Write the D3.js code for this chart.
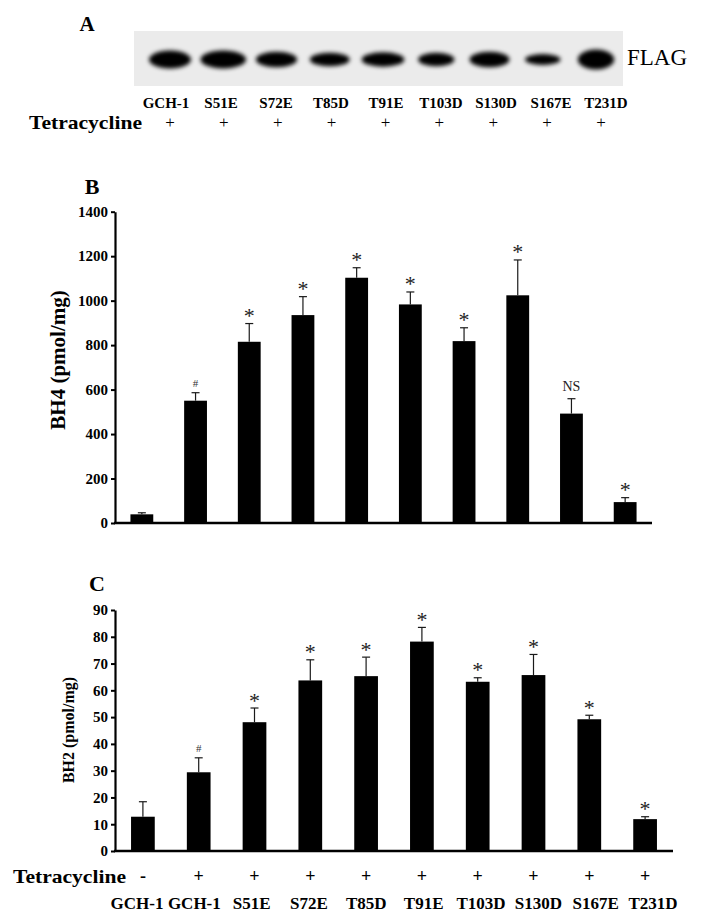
<!DOCTYPE html>
<html>
<head>
<meta charset="utf-8">
<script src="https://cdn.jsdelivr.net/npm/d3@7"></script>
<style>
  html, body { margin: 0; padding: 0; background: #fff; }
  svg { display: block; }
  text { font-family: "Liberation Serif", "Times New Roman", serif; fill: #000; }
</style>
</head>
<body>
<script>
// ---------------- DATA ----------------
const blotLanes = ["GCH-1", "S51E", "S72E", "T85D", "T91E", "T103D", "S130D", "S167E", "T231D"];
const blotSigns = ["+", "+", "+", "+", "+", "+", "+", "+", "+"];
// relative band spread / density read from the western blot (GCH-1 = 1)
const blotSpread  = [1.00, 1.09, 0.98, 0.95, 1.02, 0.86, 0.95, 0.84, 0.86];
const blotDensity = [1.00, 1.00, 0.85, 0.75, 0.80, 0.75, 0.85, 0.60, 1.10];

const categories = ["GCH-1 -", "GCH-1", "S51E", "S72E", "T85D", "T91E", "T103D", "S130D", "S167E", "T231D"];
const catLabels  = ["GCH-1", "GCH-1", "S51E", "S72E", "T85D", "T91E", "T103D", "S130D", "S167E", "T231D"];
const tetSigns   = ["-", "+", "+", "+", "+", "+", "+", "+", "+", "+"];

const bh4Mean = [39, 550, 815, 935, 1103, 983, 818, 1024, 492, 94];
const bh4Err  = [7, 36, 82, 83, 45, 56, 60, 159, 67, 20];
const bh4Sig  = ["", "#", "*", "*", "*", "*", "*", "*", "NS", "*"];
const bh4Ticks = [0, 200, 400, 600, 800, 1000, 1200, 1400];

const bh2Mean = [12.8, 29.4, 48.1, 63.7, 65.3, 78.2, 63.2, 65.7, 49.2, 11.9];
const bh2Err  = [5.6, 5.4, 5.3, 7.7, 7.1, 5.3, 1.5, 7.7, 1.5, 0.9];
const bh2Sig  = ["", "#", "*", "*", "*", "*", "*", "*", "*", "*"];
const bh2Ticks = [0, 10, 20, 30, 40, 50, 60, 70, 80, 90];

// ---------------- DRAW ----------------
const W = 704, H = 921;
const svg = d3.select("body").append("svg").attr("width", W).attr("height", H);
svg.append("rect").attr("width", W).attr("height", H).attr("fill", "#fff");

const defs = svg.append("defs");
defs.append("filter").attr("id", "blur").attr("x", "-30%").attr("y", "-80%").attr("width", "160%").attr("height", "260%")
  .append("feGaussianBlur").attr("stdDeviation", 2.2);

// ----- Panel A -----
const gA = svg.append("g");
gA.append("text").attr("x", 87).attr("y", 31).attr("text-anchor", "middle")
  .attr("font-size", 21).attr("font-weight", "bold").text("A");

const blot = { x0: 134, x1: 623, y0: 31, y1: 86 };
gA.append("rect").attr("x", blot.x0).attr("y", blot.y0)
  .attr("width", blot.x1 - blot.x0).attr("height", blot.y1 - blot.y0)
  .attr("fill", "#ebebeb");

const laneX = d3.scalePoint().domain(blotLanes).range([170, 596]);
const bandW = d3.scaleLinear().domain([0, 1]).range([0, 40]);
const bandH = d3.scaleLinear().domain([0, 1]).range([0, 18]);
const bandY = (blot.y0 + blot.y1) / 2 + 1;

gA.append("g").attr("filter", "url(#blur)")
  .selectAll("ellipse").data(blotLanes).join("ellipse")
  .attr("cx", d => laneX(d))
  .attr("cy", bandY)
  .attr("rx", (d, i) => bandW(blotSpread[i]) / 2 + 1)
  .attr("ry", (d, i) => bandH(blotDensity[i]) / 2)
  .attr("fill", "#000");

gA.append("text").attr("x", 627).attr("y", 65).attr("font-size", 23).text("FLAG");

const laneLabelX = d3.scalePoint().domain(blotLanes).range([166, 606]);
gA.append("g").selectAll("text").data(blotLanes).join("text")
  .attr("x", d => laneLabelX(d)).attr("y", 108)
  .attr("text-anchor", "middle").attr("font-size", 15).attr("font-weight", "bold")
  .text(d => d);

gA.append("text").attr("x", 29).attr("y", 129).attr("font-size", 19.5).attr("font-weight", "bold")
  .attr("textLength", 113).attr("lengthAdjust", "spacingAndGlyphs").text("Tetracycline");
const signX = d3.scalePoint().domain(blotLanes).range([170, 601]);
gA.append("g").selectAll("text").data(blotLanes).join("text")
  .attr("x", d => signX(d)).attr("y", 128)
  .attr("text-anchor", "middle").attr("font-size", 17)
  .text((d, i) => blotSigns[i]);

// ----- helper for bar panels -----
function barPanel(opt) {
  const g = svg.append("g");
  const x = d3.scaleBand().domain(categories).range([opt.x0, opt.x1])
    .paddingInner(0.575).paddingOuter(0.2875);
  const y = d3.scaleLinear().domain([0, opt.max]).range([opt.yBottom, opt.yTop]);

  // panel letter
  g.append("text").attr("x", opt.letterX).attr("y", opt.letterY).attr("text-anchor", "middle")
    .attr("font-size", 22).attr("font-weight", "bold").text(opt.letter);

  // bars
  g.append("g").selectAll("rect").data(categories).join("rect")
    .attr("x", d => x(d)).attr("width", x.bandwidth())
    .attr("y", (d, i) => y(opt.mean[i]))
    .attr("height", (d, i) => y(0) - y(opt.mean[i]))
    .attr("fill", "#000");

  // error bars (upper only)
  const eb = g.append("g").attr("stroke", "#1a1a1a").attr("stroke-width", 1.2);
  categories.forEach((d, i) => {
    const cx = x(d) + x.bandwidth() / 2;
    const yt = y(opt.mean[i] + opt.err[i]);
    eb.append("line").attr("x1", cx).attr("x2", cx).attr("y1", y(opt.mean[i])).attr("y2", yt);
    eb.append("line").attr("x1", cx - 4).attr("x2", cx + 4).attr("y1", yt).attr("y2", yt);
  });

  // significance marks
  const sigStyle = {
    "*":  { size: 22, dy: -0.5, fill: "#222" },
    "#":  { size: 11, dy: -6, fill: "#333" },
    "NS": { size: 14, dy: -7.5, fill: "#222" }
  };
  g.append("g").selectAll("text").data(categories).join("text")
    .filter((d, i) => opt.sig[i] !== "")
    .each(function (d) {
      const i = categories.indexOf(d);
      const s = sigStyle[opt.sig[i]];
      d3.select(this)
        .attr("x", x(d) + x.bandwidth() / 2)
        .attr("y", y(opt.mean[i] + opt.err[i]) + s.dy)
        .attr("text-anchor", "middle")
        .attr("font-size", s.size)
        .style("fill", s.fill)
        .text(opt.sig[i]);
    });

  // y axis
  const ax = g.append("g").attr("transform", `translate(${opt.x0},0)`)
    .call(d3.axisLeft(y).tickValues(opt.ticks).tickSize(4).tickSizeOuter(0).tickFormat(d3.format("d")));
  ax.select(".domain").attr("stroke", "#000").attr("stroke-width", 2.2);
  ax.selectAll(".tick line").attr("stroke", "#000").attr("stroke-width", 2);
  ax.selectAll(".tick text").attr("font-family", "Liberation Serif, Times New Roman, serif")
    .attr("font-size", opt.tickSize).attr("font-weight", "bold").attr("fill", "#000")
    .attr("x", -7);

  // baseline
  g.append("line").attr("x1", opt.x0 - 1).attr("x2", opt.x1).attr("y1", y(0)).attr("y2", y(0))
    .attr("stroke", "#000").attr("stroke-width", 2.6);

  // axis title
  g.append("text")
    .attr("transform", `translate(${opt.titleX},${opt.titleY}) rotate(-90)`)
    .attr("text-anchor", "middle").attr("font-size", opt.titleSize).attr("font-weight", "bold")
    .text(opt.title);
  return x;
}

barPanel({
  letter: "B", letterX: 92, letterY: 194,
  x0: 115, x1: 652, yTop: 211.7, yBottom: 523, max: 1400,
  mean: bh4Mean, err: bh4Err, sig: bh4Sig, ticks: bh4Ticks, tickSize: 15,
  title: "BH4 (pmol/mg)", titleX: 65, titleY: 360, titleSize: 21
});

const xC = barPanel({
  letter: "C", letterX: 97, letterY: 591,
  x0: 115, x1: 673, yTop: 610, yBottom: 851, max: 90,
  mean: bh2Mean, err: bh2Err, sig: bh2Sig, ticks: bh2Ticks, tickSize: 15,
  title: "BH2 (pmol/mg)", titleX: 74, titleY: 730, titleSize: 16
});

// ----- bottom labels -----
svg.append("text").attr("x", 13).attr("y", 883).attr("font-size", 19.5).attr("font-weight", "bold")
  .attr("textLength", 113).attr("lengthAdjust", "spacingAndGlyphs").text("Tetracycline");
svg.append("g").selectAll("text").data(categories).join("text")
  .attr("x", d => xC(d) + xC.bandwidth() / 2).attr("y", 882)
  .attr("text-anchor", "middle").attr("font-size", 18).attr("font-weight", "bold")
  .text((d, i) => tetSigns[i]);
const labelX = d3.scalePoint().domain(categories).range([137, 653]);
svg.append("g").selectAll("text").data(categories).join("text")
  .attr("x", d => labelX(d)).attr("y", 909)
  .attr("text-anchor", "middle").attr("font-size", 17).attr("font-weight", "bold")
  .text((d, i) => catLabels[i]);
</script>
</body>
</html>
